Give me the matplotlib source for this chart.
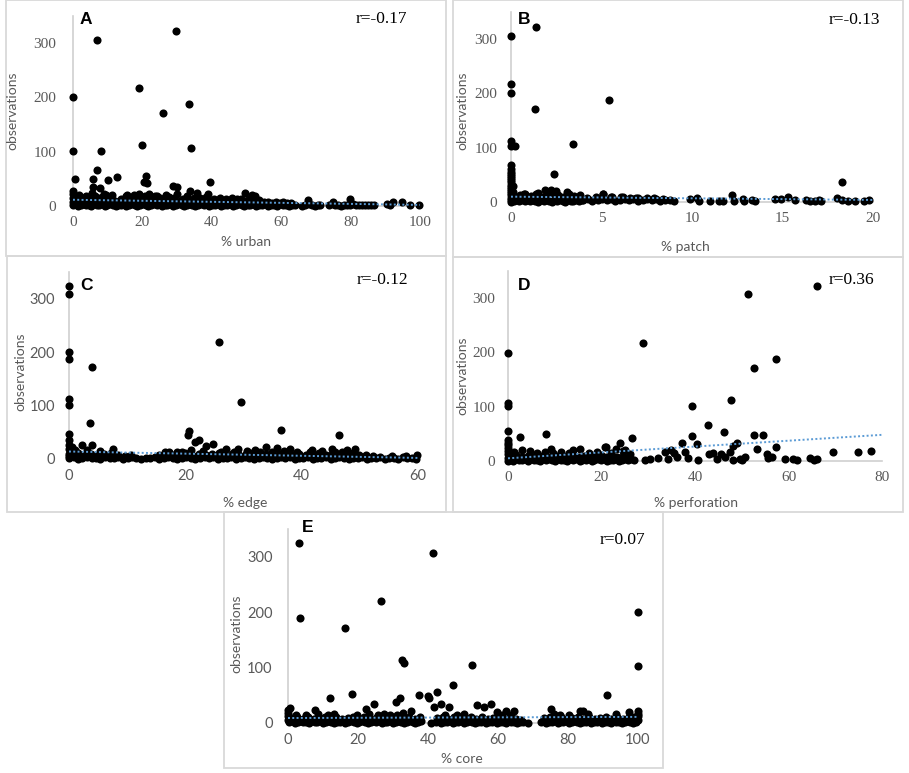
import matplotlib.pyplot as plt
import numpy as np
from matplotlib.patches import Rectangle

W, H = 909, 773
GRAY_TXT = "#595959"
AXIS_GRAY = "#d0d0d0"
TREND_BLUE = "#5b9bd5"
SANS = ["Lato", "DejaVu Sans"]
SERIF = ["Liberation Serif", "DejaVu Serif"]

# ---- data ----
# A: % urban
a_x = [0, 0, 6.8, 29.7, 19, 26, 33.5, 20, 34, 8, 6.8, 0.6, 5.9, 10.2, 12.6, 21, 20.5, 21.3, 39.5, 28.9,
       30, 30, 33.6, 35.7, 39, 49.6, 51.5, 52.5, 5.9, 7.8, 5.4, 8.8, 11.2, 15.5, 19, 21.9, 24.3, 26.7,
       67.8, 75, 79.9, 92.3, 94.7, 97, 99.6, 0, 0,
       0, 0.7, 1.5, 2.2, 3.1, 3.8, 4.6, 5.3, 6.1, 6.9, 7.6, 8.4, 9.1, 9.9, 10.8, 11.5, 12.3, 13.0, 13.9,
       14.6, 15.4, 16.1, 17.0, 17.8, 18.5, 19.3, 20.2, 20.9, 21.7, 22.5, 23.2, 24.1, 24.8, 25.6, 26.5,
       27.2, 28.0, 28.9, 29.6, 30.4, 31.3, 32.0, 32.8, 33.7, 34.4, 35.2, 36.1, 36.8, 37.7, 38.5, 39.2,
       40.1, 40.9, 41.8, 42.6, 43.5, 44.3, 45.2, 46.0, 46.9, 47.7, 48.6, 49.4, 50.3, 51.1, 52.0, 52.8,
       53.7, 54.5, 55.4, 56.2, 57.1, 57.9, 58.8, 59.6, 60.5, 61.3, 62.2, 63.0, 63.9, 66.1, 67.0, 67.9,
       68.8, 69.6, 70.5, 71.3, 73.9, 74.8, 75.6, 76.5, 77.3, 78.2, 79.0, 79.9, 80.8, 81.6, 82.5, 83.3,
       84.2, 85.0, 85.9, 86.7, 90.4, 91.3,
       0, 1.2, 2.3, 3.5, 4.4, 5.6, 6.7, 7.9, 8.8, 10.1, 11.0, 12.2, 13.3, 14.5, 15.4, 16.6, 17.7, 18.8,
       19.9, 21.1, 22.0, 23.2, 24.3, 25.4, 26.6, 27.5, 28.7, 29.8, 30.9, 32.1, 33.0, 34.2, 35.3, 36.4,
       37.6, 38.5, 39.7, 40.8, 41.9, 43.1, 44.0, 45.2, 46.3, 47.4, 48.6, 49.5, 50.7, 51.8, 52.9, 54.1,
       55.0, 56.2, 57.3, 58.4, 59.6, 60.5, 61.7, 62.8,
       0, 0.9, 1.8, 2.9, 3.7, 4.8, 6.2, 7.1, 8.3, 9.4, 10.5, 13.9, 15.2, 16.3, 17.5, 18.1, 19.8, 20.7,
       22.4, 23.5, 25.1, 27.8, 29.2, 31.6, 32.9, 34.8, 36.7, 38.2, 40.6, 42.3, 44.1, 45.9, 47.2, 48.5,
       50.8, 53.6]
a_y = [200, 101, 306, 322, 217, 172, 188, 113, 106, 102, 66, 49, 49, 48, 53, 55, 45, 42, 45, 37,
       35, 23, 27, 24, 23, 24, 21, 18, 35, 34, 24, 23, 21, 21, 23, 23, 19, 21,
       11, 8, 12, 8, 7, 2, 2, 22, 27,
       1, 3, 0, 2, 4, 1, 2, 0, 3, 1, 2, 4, 0, 1, 3, 2, 0, 2, 1,
       3, 0, 2, 4, 1, 0, 2, 3, 1, 0, 2, 4, 1, 3, 0, 2,
       1, 3, 0, 2, 4, 1, 0, 2, 3, 1, 0, 2, 4, 1, 3, 0,
       2, 1, 3, 0, 2, 1, 4, 0, 2, 3, 1, 0, 2, 1, 3, 0,
       2, 1, 3, 0, 1, 2, 0, 3, 1, 2, 0, 1, 2, 0, 1, 3,
       1, 0, 2, 1, 2, 3, 1, 2, 0, 1, 2, 1, 3, 1, 2, 1,
       2, 1, 2, 1, 3, 2,
       8, 10, 7, 11, 9, 8, 10, 7, 11, 9, 8, 10, 7, 9, 11, 8, 10, 7,
       9, 11, 8, 10, 7, 9, 11, 8, 10, 7, 9, 11, 8, 10, 7, 9,
       11, 8, 10, 7, 9, 8, 10, 7, 9, 8, 7, 9, 8, 7, 9, 6,
       8, 7, 6, 8, 6, 7, 5, 6,
       14, 17, 20, 15, 18, 16, 19, 14, 17, 20, 15, 13, 18, 15, 20, 16, 14, 18,
       16, 19, 14, 17, 15, 13, 18, 15, 14, 16, 13, 15, 12, 14, 13, 12,
       12, 11]
a_trend = (11.5, -0.095)

# B: % patch
b_x = [0, 1.38, 0, 0, 1.3, 5.4, 3.4, 0, 0, 0.2, 0, 2.35, 18.3,
       0, 0, 0, 0, 0, 0, 0, 0, 0, 0, 0, 0, 0, 0, 0, 0, 0.1, 0.1, 0.1,
       0.15, 0.3, 0.45, 0.6, 0.75, 0.9, 1.05, 1.2, 1.35, 1.5, 1.65, 1.8, 1.95, 2.1, 2.25, 2.4,
       2.55, 2.7, 2.85, 3.0, 3.15, 3.3, 3.45, 3.6, 3.75, 3.9,
       0.2, 0.5, 0.8, 1.1, 1.4, 1.7, 2.0, 2.3, 2.6, 2.9, 3.2, 3.5, 3.8,
       0.7, 1.5, 1.9, 2.2, 3.1, 2.5, 2.0,
       4.0, 4.25, 4.5, 4.8, 5.0, 5.3, 5.5, 5.75, 6.0, 6.3, 6.5, 6.75, 7.0, 7.3, 7.5, 7.8,
       8.0, 8.25, 8.5, 8.8, 9.0,
       4.2, 4.7, 5.1, 5.6, 6.1, 6.6, 7.0, 7.5, 7.9, 8.4,
       5.1, 5.5, 6.2, 6.9,
       9.9, 10.3, 10.4, 11.0, 11.5, 11.7, 12.2, 12.3, 12.8, 12.9, 13.3, 13.5, 14.6, 14.9, 15.3,
       15.7, 16.3, 16.5, 16.8, 17.0, 17.1, 18.0, 18.3, 18.6, 19.0, 19.5, 19.8]
b_y = [306, 322, 218, 200, 172, 188, 106, 113, 103, 103, 68, 52, 37,
       0, 4, 8, 12, 16, 20, 24, 28, 32, 36, 40, 44, 48, 52, 56, 60, 6, 18, 30,
       2, 4, 1, 3, 2, 4, 1, 3, 2, 0, 3, 1, 4, 2, 0, 3,
       1, 4, 2, 0, 3, 1, 2, 4, 1, 3,
       9, 12, 15, 11, 14, 10, 13, 16, 12, 9, 14, 11, 13,
       15, 17, 22, 22, 18, 20, 19,
       3, 5, 2, 4, 6, 3, 5, 2, 4, 6, 3, 5, 2, 4, 6, 3,
       5, 2, 4, 3, 2,
       8, 9, 14, 10, 9, 8, 7, 8, 8, 6,
       14, 10, 9, 8,
       5, 7, 2, 1, 1, 2, 13, 1, 5, 2, 4, 1, 6, 5, 9,
       3, 4, 2, 2, 3, 1, 7, 3, 2, 2, 2, 3]
b_trend = (9.8, -0.3)

# C: % edge
c_x = [0, 0, 0, 0, 4, 25.8, 29.5, 0, 0, 3.6, 36.4, 46.4, 20.7, 20.4, 21.6, 22.4, 23.5, 24.7, 27,
       29, 32, 33.8, 35.7, 38, 41.8, 45.3, 47.8, 49.2, 7.5, 2.3, 4, 0, 0, 0, 16.5, 18.5,
       0, 0, 0, 0.5, 1.1,
       0, 0.8, 1.6, 2.3, 3.1, 3.9, 4.7, 5.4, 6.2, 7.0, 7.8, 8.5, 9.3, 10.1, 10.9, 11.6, 12.4, 13.2,
       14.0, 14.7, 15.5, 16.3, 17.1, 17.8, 18.6, 19.4, 20.2, 20.9, 21.7, 22.5, 23.3, 24.0, 24.8,
       25.6, 26.4, 27.1, 27.9, 28.7, 29.5, 30.2, 31.0, 31.8, 32.6, 33.3, 34.1, 34.9, 35.7, 36.4,
       37.2, 38.0, 38.8, 39.5, 40.3, 41.1, 41.9, 42.6, 43.4, 44.2, 45.0, 45.7, 46.5, 47.3, 48.1,
       48.8, 49.6, 50.4, 51.2, 51.9, 52.7, 53.5, 54.3, 55.0, 55.8, 56.6, 57.4, 58.1, 58.9, 59.7,
       0.4, 1.5, 2.7, 3.8, 5.0, 6.1, 7.3, 8.4, 9.6, 10.7, 15.4, 16.6, 17.7, 18.9, 20.0, 21.2,
       22.3, 23.5, 24.6, 25.8, 26.9, 28.1, 29.2, 30.4, 31.5, 32.7, 33.8, 35.0, 36.1, 37.3, 38.4,
       39.6, 40.7, 41.9, 43.0, 44.2, 45.3, 46.5, 47.6, 48.8, 49.9, 51.1, 52.2, 55.6, 57.9, 59.8,
       1.2, 3.1, 5.3, 17.2, 19.4, 21.0, 23.0, 26.1, 28.4, 30.6, 32.8, 34.9, 37.0, 39.2, 41.4,
       43.5, 45.7, 47.0, 48.1]
c_y = [324, 308, 200, 187, 172, 219, 106, 113, 101, 67, 55, 44, 53, 44, 31, 36, 24, 28, 19,
       19, 16, 22, 20, 19, 17, 19, 16, 19, 19, 27, 26, 47, 36, 27, 14, 13,
       18, 10, 5, 22, 17,
       1, 3, 0, 2, 4, 1, 2, 0, 3, 1, 2, 4, 0, 1, 3, 2, 0, 2,
       1, 3, 0, 2, 4, 1, 0, 2, 3, 1, 0, 2, 4, 1, 3,
       0, 2, 1, 3, 0, 2, 4, 1, 0, 2, 3, 1, 0, 2, 4,
       1, 3, 0, 2, 1, 3, 0, 2, 1, 4, 0, 2, 3, 1, 0,
       2, 1, 3, 0, 2, 1, 3, 0, 1, 2, 0, 3, 1, 2, 0,
       9, 11, 8, 10, 7, 9, 11, 8, 6, 7, 8, 10, 7, 9, 11, 8,
       10, 7, 9, 11, 8, 10, 7, 9, 11, 8, 10, 7, 9, 11, 8,
       10, 7, 9, 11, 8, 10, 7, 9, 11, 8, 7, 6, 6, 5, 7,
       14, 16, 15, 13, 14, 16, 15, 14, 13, 15, 14, 13, 15, 14, 13,
       15, 14, 13, 12]
c_trend = (14.0, -0.2)

# D: % perforation
d_x = [0, 0, 0, 0, 28.9, 51.4, 66.1, 57.3, 52.6, 47.6, 39.4, 42.7, 46.2, 52.6, 54.6, 39.3, 40.4,
       26.6, 8.2, 2.6, 9.1, 23.9, 21, 23, 25, 37.3, 37.9, 34.9, 33.6, 48.9, 48.2, 47.4, 46.4,
       53.2, 57.3, 55.4, 56.4, 55.7, 69.6, 74.8, 77.7, 59.3, 61, 61.8, 64.6, 66.1, 49.6, 50.7,
       48.2, 42.9, 43.9, 29.3, 30.4, 32.1, 34.3, 38.6, 40.7, 36.2, 44.8, 45.5, 50.0, 65.5, 35.5,
       0, 0, 0, 0, 0, 0, 0, 0,
       0.3, 1.0, 1.6, 2.3, 2.9, 3.6, 4.2, 4.9, 5.5, 6.2, 6.8, 7.5, 8.1, 8.8, 9.4, 10.1, 10.7,
       11.4, 12.0, 12.7, 13.3, 14.0, 14.6, 15.3, 15.9, 16.6, 17.2, 17.9, 18.5, 19.2, 19.8, 20.5,
       21.1, 21.8, 22.4, 23.1, 23.7, 24.4, 25.0, 25.7, 26.3, 27.0,
       0.6, 1.8, 3.0, 4.2, 5.4, 6.6, 7.8, 9.0, 10.2, 11.4, 12.6, 13.8, 15.0, 16.2, 17.4, 18.6,
       19.8, 21.0, 22.2, 23.4, 24.6, 25.8,
       1.2, 2.9, 4.6, 6.3, 8.0, 9.7, 11.4, 13.1, 13.9, 15.4, 17.3, 19.1, 20.7, 22.1, 24.5, 26.0]
d_y = [199, 106, 102, 55, 218, 307, 322, 187, 171, 113, 102, 67, 53, 48, 48, 46, 32,
       43, 49, 45, 23, 34, 26, 23, 21, 34, 17, 21, 17, 34, 28, 17, 7,
       23, 26, 12, 8, 5, 17, 17, 19, 4, 4, 1, 5, 4, 3, 7,
       1, 13, 14, 2, 3, 5, 3, 5, 2, 8, 3, 12, 2, 2, 15,
       0, 6, 12, 18, 24, 30, 34, 38,
       2, 0, 3, 1, 2, 4, 0, 3, 1, 2, 0, 3, 1, 4, 2, 0, 3,
       1, 2, 0, 4, 1, 3, 0, 2, 1, 3, 0, 2, 4, 1, 3,
       0, 2, 1, 3, 0, 2, 4, 1, 3, 1,
       9, 11, 8, 10, 7, 9, 11, 8, 10, 7, 9, 11, 8, 10, 7, 9,
       11, 8, 10, 7, 9, 8,
       16, 20, 18, 15, 17, 14, 16, 15, 20, 23, 15, 17, 25, 14, 18, 12]
d_trend = (5.0, 0.54)

# E: % core
e_x = [3, 3.5, 41.5, 26.5, 16.3, 100, 100, 32.5, 33, 52.7, 47, 91.2, 42.5, 40.1, 40.3, 37.3,
       18.4, 12, 32, 30.8, 43.7, 41.8, 24.6, 22.2, 54.1, 56.1, 57.9, 46.1, 59.6, 62.3, 64.5,
       35.2, 32.8, 75, 83.4, 84.4, 97.4, 93.8, 7.6, 0.5,
       0, 0, 0, 0, 100, 100, 100, 100,
       0.4, 1.2, 2.0, 2.8, 3.6, 4.4, 5.2, 6.0, 6.8, 7.6, 8.4, 9.2, 10.0, 10.8, 11.6, 12.4, 13.2,
       14.0, 14.8, 15.6, 16.4, 17.2, 18.0, 18.8, 19.6, 20.4, 21.2, 22.0, 22.8, 23.6, 24.4, 25.2,
       26.0, 26.8, 27.6, 28.4, 29.2, 30.0, 30.8, 31.6, 32.4, 33.2, 34.0, 34.8, 35.6, 36.4, 37.2,
       38.0, 40.8, 42.2, 43.0, 43.8, 44.6, 45.4, 46.2, 47.0, 47.8, 48.6, 49.4, 50.2, 51.0, 51.8,
       52.6, 53.4, 54.2, 55.0, 55.8, 56.6, 57.4, 58.2, 59.0, 59.8, 60.6, 61.4, 62.2, 63.0, 63.8,
       64.6, 65.4, 66.2, 67.0, 68.6, 72.2, 73.0, 73.8, 74.6, 75.4, 76.2, 77.0, 77.8, 78.6, 79.4,
       80.2, 81.0, 81.8, 82.6, 83.4, 84.2, 85.0, 85.8, 86.6, 87.4, 88.2, 89.0, 89.8, 90.6, 91.4,
       92.2, 93.0, 93.8, 94.6, 95.4, 96.2, 97.0, 97.8, 98.6, 99.4,
       1.0, 2.6, 4.2, 5.8, 7.4, 9.0, 10.6, 12.2, 13.8, 15.4, 17.0, 18.6, 20.2, 21.8, 23.4, 25.0,
       26.6, 28.2, 29.8, 31.4, 33.0, 34.6, 36.2, 37.8, 42.6, 44.2, 45.8, 47.4, 49.0, 50.6, 52.2,
       53.8, 55.4, 57.0, 58.6, 60.2, 61.8, 63.4, 65.0, 66.6, 73.2, 74.8, 76.4, 78.0, 79.6, 81.2,
       82.8, 84.4, 86.0, 87.6, 89.2, 90.8, 92.4, 94.0, 95.6, 97.2, 98.8,
       2.2, 5.0, 8.6, 11.4, 13.0, 19.8, 23.0, 25.6, 27.4, 29.0, 31.0, 44.8, 48.2, 50.4, 61.0,
       63.6, 76.0, 77.6, 80.4, 85.6]
e_y = [324, 189, 307, 220, 172, 201, 103, 114, 108, 104, 68, 50, 56, 48, 46, 50,
       53, 46, 45, 37, 34, 29, 35, 25, 32, 28, 35, 28, 19, 22, 22,
       21, 18, 25, 21, 21, 20, 16, 24, 27,
       6, 12, 18, 23, 6, 12, 17, 22,
       1, 3, 0, 2, 4, 1, 2, 0, 3, 1, 2, 4, 0, 1, 3, 2, 0,
       2, 1, 3, 0, 2, 4, 1, 0, 2, 3, 1, 0, 2, 4, 1,
       3, 0, 2, 1, 3, 0, 2, 4, 1, 0, 2, 3, 1, 0, 2,
       4, 0, 1, 3, 0, 2, 1, 3, 0, 2, 1, 4, 0, 2, 3,
       1, 0, 2, 1, 3, 0, 2, 1, 3, 0, 1, 2, 0, 3, 1,
       2, 0, 1, 2, 0, 1, 3, 0, 2, 1, 3, 0, 2, 1, 4,
       0, 2, 3, 1, 0, 2, 1, 3, 0, 2, 1, 3, 0, 1, 2,
       0, 3, 1, 2, 0, 1, 3, 2, 0, 1,
       9, 11, 8, 10, 7, 9, 11, 8, 10, 7, 9, 11, 8, 10, 7, 9,
       11, 8, 10, 7, 9, 11, 8, 10, 9, 11, 8, 10, 7, 9, 11,
       8, 10, 7, 9, 11, 8, 10, 7, 6, 9, 11, 8, 10, 7, 9,
       11, 8, 10, 7, 9, 11, 8, 10, 7, 9, 11,
       15, 14, 16, 14, 17, 15, 16, 14, 17, 15, 14, 15, 14, 16, 15,
       14, 16, 14, 15, 16]
e_trend = (9.0, 0.02)

Y_MAX = 350
Y_TICKS = [0, 100, 200, 300]

# layout in pixels: axes x0, x1 (value 0 and xmax), y top (value 350), y bottom (value 0)
PANELS = [
    dict(letter="A", x=a_x, y=a_y, trend=a_trend, xmax=100, xticks=[0, 20, 40, 60, 80, 100],
         ax_px=(73, 420, 16, 206), box=(6, 446, 0, 256), tick_font=SERIF, tick_size=11, ypad=12,
         xlabel="% urban", xlab_px=(246, 242), ylab_px=(12, 111), letter_px=(80, 20),
         r="r=-0.17", r_px=(407, 19)),
    dict(letter="B", x=b_x, y=b_y, trend=b_trend, xmax=20, xticks=[0, 5, 10, 15, 20],
         ax_px=(511, 873, 12, 202), box=(453, 903, 0, 257), tick_font=SERIF, tick_size=11, ypad=10,
         xlabel="% patch", xlab_px=(685, 247), ylab_px=(462, 111), letter_px=(518, 20),
         r="r=-0.13", r_px=(880, 20)),
    dict(letter="C", x=c_x, y=c_y, trend=c_trend, xmax=60, xticks=[0, 20, 40, 60],
         ax_px=(69, 418, 272, 459), box=(7, 446, 256, 512), tick_font=SANS, tick_size=10.5, ypad=10,
         xlabel="% edge", xlab_px=(245, 503), ylab_px=(20, 372), letter_px=(80, 285),
         r="r=-0.12", r_px=(408, 280)),
    dict(letter="D", x=d_x, y=d_y, trend=d_trend, xmax=80, xticks=[0, 20, 40, 60, 80],
         ax_px=(508, 882, 271, 461), box=(453, 903, 257, 512), tick_font=SERIF, tick_size=11, ypad=9,
         xlabel="% perforation", xlab_px=(696, 503), ylab_px=(462, 376), letter_px=(518, 285),
         r="r=0.36", r_px=(874, 280)),
    dict(letter="E", x=e_x, y=e_y, trend=e_trend, xmax=100, xticks=[0, 20, 40, 60, 80, 100],
         ax_px=(288, 638, 529, 723), box=(224, 663, 512, 768), tick_font=SANS, tick_size=10.5, ypad=11,
         xlabel="% core", xlab_px=(462, 759), ylab_px=(236, 634), letter_px=(302, 527),
         r="r=0.07", r_px=(645, 540)),
]


def fx(px):
    return px / W


def fy(py):
    return 1 - py / H


def draw_panel(fig, p):
    bx0, bx1, by0, by1 = p["box"]
    fig.patches.append(Rectangle((fx(bx0), fy(by1)), (bx1 - bx0) / W, (by1 - by0) / H,
                                 transform=fig.transFigure, fill=False,
                                 edgecolor="#d9d9d9", linewidth=1.3))

    x0, x1, yt, yb = p["ax_px"]
    ax = fig.add_axes([fx(x0), fy(yb), (x1 - x0) / W, (yb - yt) / H])
    ax.set_xlim(0, p["xmax"])
    ax.set_ylim(0, Y_MAX)
    ax.patch.set_visible(False)

    ax.scatter(p["x"], p["y"], s=34, color="black", linewidths=0, zorder=2, clip_on=False)

    b0, slope = p["trend"]
    tx = np.array([0, p["xmax"]])
    ax.plot(tx, b0 + slope * tx, color=TREND_BLUE, linestyle=(0, (1, 1.2)),
            linewidth=1.4, zorder=3, clip_on=False)

    for side in ["top", "right"]:
        ax.spines[side].set_visible(False)
    for side in ["left", "bottom"]:
        ax.spines[side].set_color(AXIS_GRAY)
        ax.spines[side].set_linewidth(1.2)
        ax.spines[side].set_zorder(1)

    ax.set_xticks(p["xticks"])
    ax.set_yticks(Y_TICKS)
    ax.tick_params(axis="both", length=0, colors=GRAY_TXT, labelsize=p["tick_size"])
    ax.tick_params(axis="x", pad=7)
    ax.tick_params(axis="y", pad=p["ypad"])
    for lab in ax.get_xticklabels() + ax.get_yticklabels():
        lab.set_family(p["tick_font"])

    fig.text(fx(p["xlab_px"][0]), fy(p["xlab_px"][1]), p["xlabel"], ha="center", va="center",
             fontsize=10, color=GRAY_TXT, family=SANS)
    fig.text(fx(p["ylab_px"][0]), fy(p["ylab_px"][1]), "observations", ha="center", va="center",
             rotation=90, fontsize=10, color=GRAY_TXT, family=SANS)
    fig.text(fx(p["letter_px"][0]), fy(p["letter_px"][1]), p["letter"], ha="left", va="center",
             fontsize=12.5, fontweight="bold", color="black", family=["Liberation Sans", "DejaVu Sans"])
    fig.text(fx(p["r_px"][0]), fy(p["r_px"][1]), p["r"], ha="right", va="center",
             fontsize=12.5, color="black", family=SERIF)


def main():
    fig = plt.figure(figsize=(W / 100, H / 100), dpi=100)
    fig.patch.set_facecolor("white")
    for p in PANELS:
        draw_panel(fig, p)
    fig.savefig("out.png", dpi=100)
    plt.close(fig)


if __name__ == "__main__":
    main()
